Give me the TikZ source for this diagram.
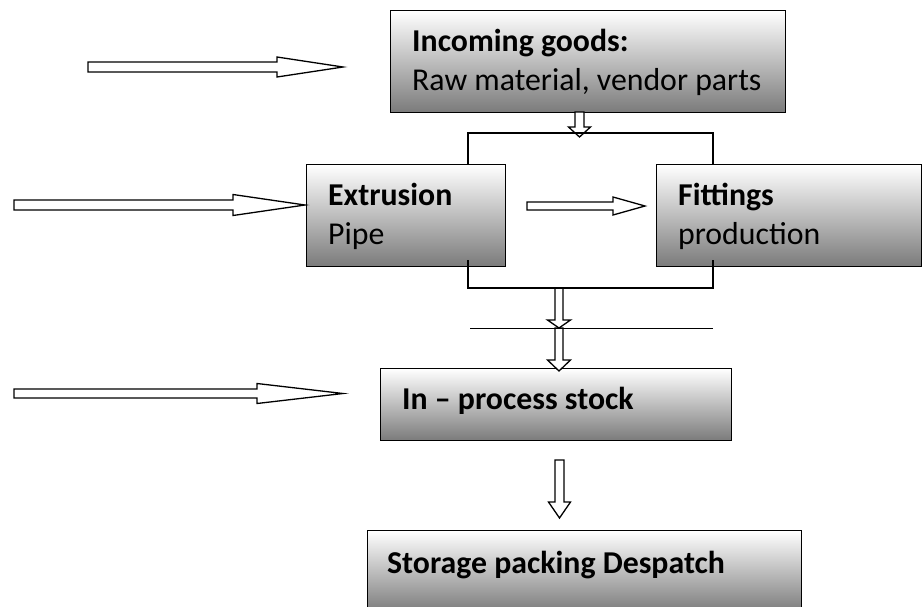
\documentclass[tikz,border=0pt]{standalone}
\usepackage{fontspec}
\setmainfont{Carlito}
\newcommand\hblk[6]{\draw[blk] ({#1},{#4-#5}) -- ({#2},{#4-#5}) -- ({#2},{#4-#6}) -- ({#3},{#4}) -- ({#2},{#4+#6}) -- ({#2},{#4+#5}) -- ({#1},{#4+#5}) -- cycle;}
\newcommand\vblk[6]{\draw[blk] ({#4-#5},{#1}) -- ({#4-#5},{#2}) -- ({#4-#6},{#2}) -- ({#4},{#3}) -- ({#4+#6},{#2}) -- ({#4+#5},{#2}) -- ({#4+#5},{#1}) -- cycle;}
\begin{document}
\begin{tikzpicture}[x=1pt,y=-1pt,
  box/.style={draw=black, line width=1.4pt, top color=white, bottom color=black!52, inner sep=0pt, anchor=north west},
  lbl/.style={anchor=base west, inner sep=0pt, font=\fontsize{31.8}{38.8}\selectfont},
  blk/.style={draw=black, fill=white, line width=1.3pt, line join=miter},
  brk/.style={line width=2pt}]
\useasboundingbox (0,0) rectangle (922,606);
\clip (0,0) rectangle (922,606);
% boxes
\node[box, minimum width=395pt, minimum height=102pt] (inc) at (390,10) {};
\node[box, minimum width=199pt, minimum height=102pt] (ext) at (306,164) {};
\node[box, minimum width=265pt, minimum height=102pt] (fit) at (656,164) {};
\node[box, minimum width=351pt, minimum height=72pt] (inp) at (380,368) {};
\node[box, minimum width=434pt, minimum height=82pt] (sto) at (367,530) {};
% labels
\node[lbl] (incA) at (412,51) {\bfseries Incoming goods:};
\node[lbl] (incB) at (412,90) {Raw material, vendor parts};
\node[lbl] (extA) at (328,205) {\bfseries Extrusion};
\node[lbl] (extB) at (328,244) {Pipe};
\node[lbl] (fitA) at (678,205) {\bfseries Fittings};
\node[lbl] (fitB) at (678,244) {production};
\node[lbl] (inpA) at (402,409) {\bfseries In – process stock};
\node[lbl] (stoA) at (387,573) {\bfseries Storage packing Despatch};
% block arrows
\hblk{88}{277}{343}{67}{5}{10}
\hblk{14}{233}{305}{205}{5}{10.5}
\hblk{14}{257}{343}{393.5}{4.5}{10}
\hblk{527}{613}{645}{206}{4}{9}
\vblk{112}{127}{137}{579.5}{4.5}{11}
\vblk{288}{320}{328}{559}{4}{11.5}
\vblk{328}{360}{371}{559}{4}{11.5}
\vblk{460}{502}{518}{559.5}{4.5}{11}
% brackets
\coordinate (tl) at (468,133);
\coordinate (tr) at (713,133);
\coordinate (bl) at (468,288);
\coordinate (br) at (713,288);
\draw[brk] (tl |- ext.north) -- (tl) -- (tr) -- (tr |- fit.north);
\draw[brk] (468,260) -- (bl) -- (br) -- (713,260);
\coordinate (ml) at (470,328);
\coordinate (mr) at (713,328);
\draw[line width=1pt] (ml) -- (mr);
\end{tikzpicture}
\end{document}
